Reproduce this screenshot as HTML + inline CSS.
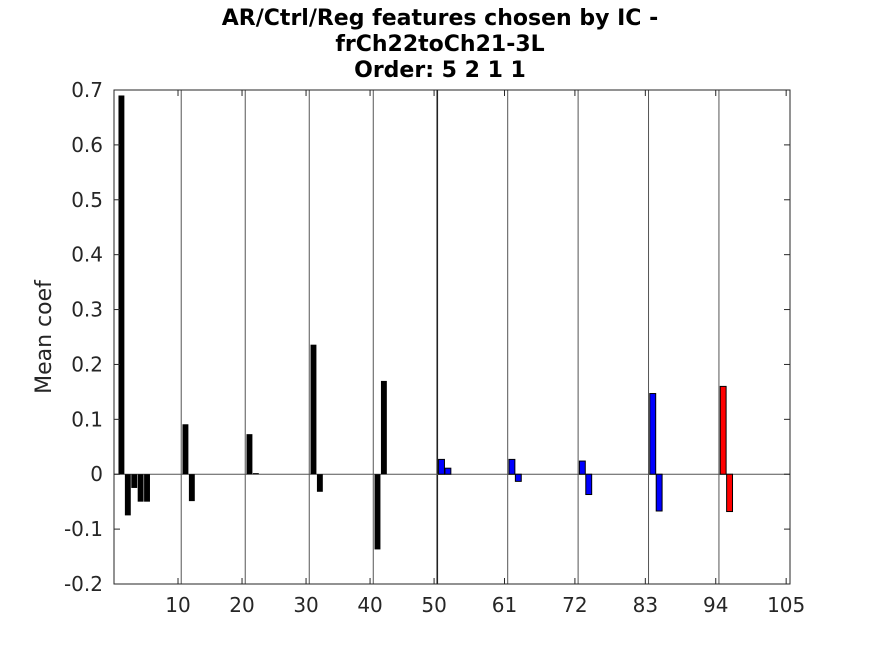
<!DOCTYPE html>
<html><head><meta charset="utf-8"><style>
body{margin:0;background:#fff;font-family:"DejaVu Sans","Liberation Sans",sans-serif}
</style></head><body>
<svg id="chart" width="875" height="656" xmlns="http://www.w3.org/2000/svg" font-family="DejaVu Sans, Liberation Sans, sans-serif">
<rect width="875" height="656" fill="#fff"/>
<g id="title" font-weight="bold" font-size="22" text-anchor="middle" fill="#000">
<text x="440" y="25">AR/Ctrl/Reg features chosen by IC -</text>
<text x="440" y="51">frCh22toCh21-3L</text>
<text x="440" y="77">Order: 5 2 1 1</text>
</g>
<text transform="translate(51,337) rotate(-90)" text-anchor="middle" font-size="22" fill="#262626">Mean coef</text>
<g id="plot"></g>
</svg>
<script>
const xs=[1,2,3,4,5,11,12,21,22,31,32,41,42,51,52,62,63,73,74,84,85,95,96];
const vals=[0.69,-0.075,-0.025,-0.05,-0.05,0.091,-0.049,0.073,0.002,0.236,-0.032,-0.137,0.17,0.027,0.011,0.027,-0.013,0.024,-0.037,0.147,-0.067,0.16,-0.068];
const seps=[10.5,20.5,30.5,40.5,50.5,61.5,72.5,83.5,94.5];
const xticks=[10,20,30,40,50,61,72,83,94,105];
const yticks=[-0.2,-0.1,0,0.1,0.2,0.3,0.4,0.5,0.6,0.7];
const L=114,R=790,T=90,B=584,xmax=105.6,ymin=-0.2,ymax=0.7;
const X=v=>L+(v/xmax)*(R-L);
const Y=v=>B-(v-ymin)/(ymax-ymin)*(B-T);
const NS="http://www.w3.org/2000/svg";
const g=document.getElementById('plot');
function mk(t,a){const e=document.createElementNS(NS,t);for(const k in a)e.setAttribute(k,a[k]);g.appendChild(e);return e;}
seps.forEach(s=>{
 const e=mk('line',{x1:X(s),x2:X(s),y1:T,y2:B,stroke:s===50.5?'#222':'#555','stroke-width':s===50.5?1.6:1});
 
 
});
const zl=mk('line',{x1:L,x2:R,y1:Y(0),y2:Y(0),stroke:'#555','stroke-width':1});


xs.forEach((x,i)=>{
 const v=vals[i];
 const col=x<=50?'#000':(x<=94?'#0000ff':'#ff0000');
 const x0=X(x-0.3),x1=X(x+0.62);
 const y0=Y(Math.max(v,0)),y1=Y(Math.min(v,0));
 const e=mk('rect',{x:x0,y:y0,width:x1-x0,height:Math.max(y1-y0,0.8),fill:col,stroke:'#000','stroke-width':x<=50?0:1});
 
 
});
const ax=mk('rect',{x:L,y:T,width:R-L,height:B-T,fill:'none',stroke:'#262626','stroke-width':1});


xticks.forEach(t=>{
 mk('line',{x1:X(t),x2:X(t),y1:B,y2:B-6,stroke:'#262626'});
 mk('line',{x1:X(t),x2:X(t),y1:T,y2:T+6,stroke:'#262626'});
 const e=mk('text',{x:X(t),y:B+28,'text-anchor':'middle','font-size':20,fill:'#262626'});
 e.textContent=t;
 
 
});
yticks.forEach(t=>{
 mk('line',{x1:L,x2:L+6,y1:Y(t),y2:Y(t),stroke:'#262626'});
 mk('line',{x1:R,x2:R-6,y1:Y(t),y2:Y(t),stroke:'#262626'});
 const e=mk('text',{x:L-11,y:Y(t)+7,'text-anchor':'end','font-size':20,fill:'#262626'});
 e.textContent=(Math.abs(t)<1e-9?'0':String(Math.round(t*10)/10));
 
 
});
</script>
</body></html>
